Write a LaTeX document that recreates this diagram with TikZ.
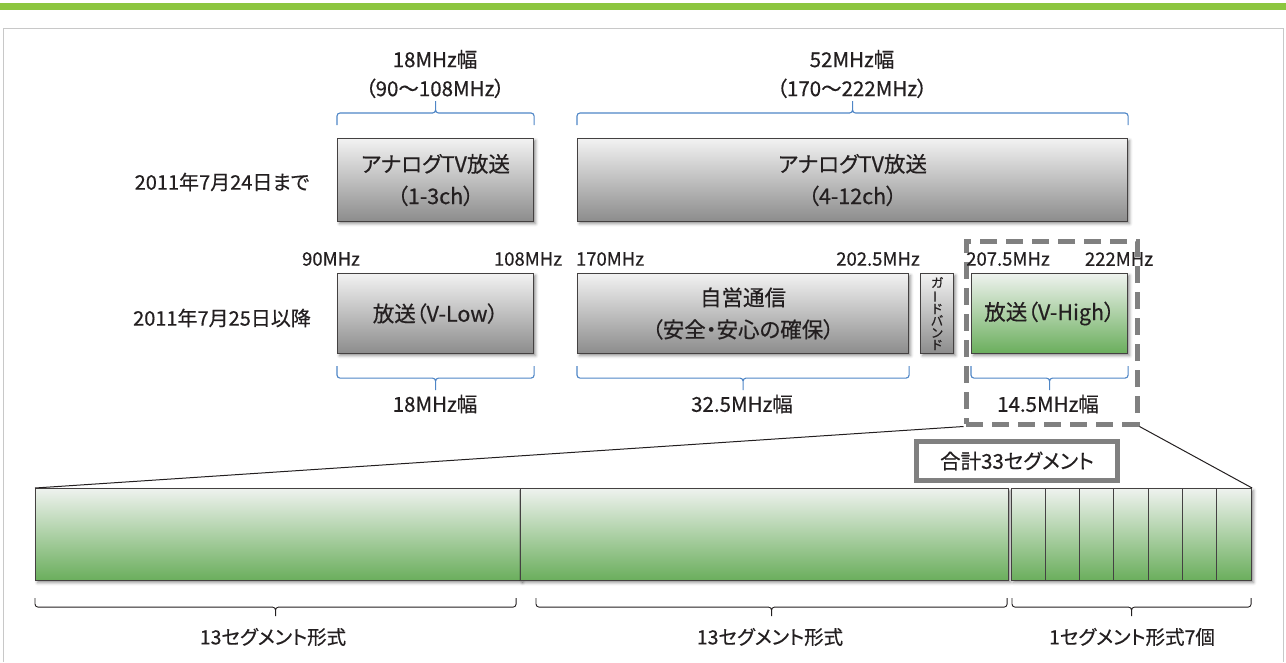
\documentclass[tikz,border=0pt]{standalone}
\usepackage{fontspec}
\setmainfont{Noto Sans CJK JP}[RawFeature=+palt, FakeBold=0.5]
\usetikzlibrary{calc,shadows.blur}

\definecolor{topbar}{HTML}{8DC63F}
\definecolor{framegray}{HTML}{C8C8C8}
\definecolor{bracecol}{HTML}{4F86C6}
\definecolor{ink}{HTML}{231F20}
\definecolor{zonegray}{HTML}{808080}
\definecolor{greentop}{HTML}{EEF2EE}
\definecolor{greenbot}{HTML}{6AAE5C}
\definecolor{graytop}{HTML}{F2F2F2}
\definecolor{graybot}{HTML}{8C8C8C}

\tikzset{
  band/.style={draw=ink!85, line width=1.1pt, top color=graytop, bottom color=graybot,
    anchor=north west, inner sep=0pt, align=center, text=ink,
    font=\fontsize{21.5}{32}\selectfont,
    blur shadow={shadow xshift=2pt, shadow yshift=-2pt, shadow blur radius=3pt, shadow opacity=45}},
  greenband/.style={band, top color=greentop, bottom color=greenbot},
  seg/.style={band, top color=greentop, bottom color=greenbot, minimum height=92},
  span/.style={rounded corners=3pt, to path={
    let \p1=(\tikztostart), \p2=(\tikztotarget), \n1={(\x1+\x2)/2} in
    -- (\x1,{\y1+(#1)}) -- (\n1,{\y1+(#1)}) -- (\n1,{\y1+2*(#1)})
    (\n1,{\y1+2*(#1)}) -- (\n1,{\y1+(#1)}) -- (\x2,{\y1+(#1)}) -- (\x2,\y1)}},
  bluebrace/.style={draw=bracecol, line width=1.1pt},
  blackbrace/.style={draw=ink, line width=0.9pt},
  biglabel/.style={text=ink, align=center, font=\fontsize{20.5}{29}\selectfont},
  datelabel/.style={text=ink, font=\fontsize{20}{22}\selectfont},
  freq/.style={text=ink, font=\fontsize{18.5}{20}\selectfont},
  seglabel/.style={text=ink, font=\fontsize{19.5}{20}\selectfont},
}

\begin{document}
\begin{tikzpicture}[x=1pt,y=1pt]
	\useasboundingbox (0,0) rectangle (1286,-662);
	% header bar and frame
	\fill[topbar] (0,-3) rectangle (1286,-9.5);
	\draw[framegray,line width=1pt] (3,-662) -- (3,-28) -- (1283,-28) -- (1283,-662);

	% until 2011-07-24
	\node[datelabel] (before) at (222,-182) {2011年7月24日まで};
	\node[band, minimum width=196, minimum height=83] (ana1) at (337,-138) {アナログTV放送\\（1-3ch）};
	\node[band, minimum width=550, minimum height=83] (ana2) at (577,-138) {アナログTV放送\\（4-12ch）};
	\draw[bluebrace, span=12] ([yshift=13]ana1.north west) to ([yshift=13]ana1.north east);
	\draw[bluebrace, span=12] ([yshift=13]ana2.north west) to ([yshift=13]ana2.north east);
	\node[biglabel] (w1) at (435,-74) {18MHz幅\\（90〜108MHz）};
	\node[biglabel] (w2) at (852,-74) {52MHz幅\\（170〜222MHz）};

	% from 2011-07-25
	\node[datelabel] (after) at (222,-318) {2011年7月25日以降};
	\node[draw=zonegray, line width=5pt, dash pattern=on 17pt off 9pt, anchor=north west,
		inner sep=0pt, minimum width=171, minimum height=183] (zone) at (963.5,-238.5) {};
	\node[band, minimum width=196, minimum height=80] (low) at (337,-273) {放送（V-Low）};
	\node[band, minimum width=331, minimum height=80] (own) at (577,-273) {自営通信\\（安全・安心の確保）};
	\node[band, minimum width=33, minimum height=80, font=\fontsize{12.5}{12}\selectfont] (guard) at (920,-273)
		{ガ\\\rotatebox[origin=c]{90}{ー}\\ド\\バ\\ン\\ド};
	\node[greenband, minimum width=156, minimum height=80] (high) at (971,-273) {放送（V-High）};

	\node[freq] (f90) at (331,-259) {90MHz};
	\node[freq] (f108) at (528,-259) {108MHz};
	\node[freq] (f170) at (610,-259) {170MHz};
	\node[freq] (f202) at (878,-259) {202.5MHz};
	\node[freq] (f207) at (1008,-259) {207.5MHz};
	\node[freq] (f222) at (1119,-259) {222MHz};

	\draw[bluebrace, span=-12] ([yshift=-12]low.south west) to ([yshift=-12]low.south east);
	\draw[bluebrace, span=-12] ([yshift=-12]own.south west) to ([yshift=-12]own.south east);
	\draw[bluebrace, span=-12] ([yshift=-12]high.south west) to ([yshift=-12]high.south east);
	\node[biglabel] (w3) at (435,-404) {18MHz幅};
	\node[biglabel] (w4) at (742,-404) {32.5MHz幅};
	\node[biglabel] (w5) at (1048,-404) {14.5MHz幅};

	% segments
	\node[seg, minimum width=485] (seg1) at (35,-488) {};
	\node[seg, minimum width=488] (seg2) at (520,-488) {};
	\node[seg, minimum width=240] (seg3) at (1011,-488) {};
	\foreach \i in {1,...,6}
		\draw[ink!85, line width=1pt] ([xshift=\i*34.3]seg3.north west) -- ([xshift=\i*34.3]seg3.south west);
	\draw[ink, line width=1pt] (zone.south west) -- (seg1.north west);
	\draw[ink, line width=1pt] (zone.south east) -- (seg3.north east);
	\node[draw=zonegray, line width=4.5pt, fill=white, inner sep=0pt, minimum width=201, minimum height=39,
		text=ink, font=\fontsize{20.5}{24}\selectfont] (total) at (1017,-461) {合計33セグメント};

	\draw[blackbrace, span=-9] ([yshift=-17]seg1.south west) to ([xshift=-5,yshift=-17]seg1.south east);
	\draw[blackbrace, span=-9] ([xshift=16,yshift=-17]seg2.south west) to ([xshift=-2,yshift=-17]seg2.south east);
	\draw[blackbrace, span=-9] ([xshift=1,yshift=-17]seg3.south west) to ([xshift=-1,yshift=-17]seg3.south east);
	\node[seglabel] (l1) at (273,-637) {13セグメント形式};
	\node[seglabel] (l2) at (770,-637) {13セグメント形式};
	\node[seglabel] (l3) at (1132,-637) {1セグメント形式7個};
\end{tikzpicture}
\end{document}
